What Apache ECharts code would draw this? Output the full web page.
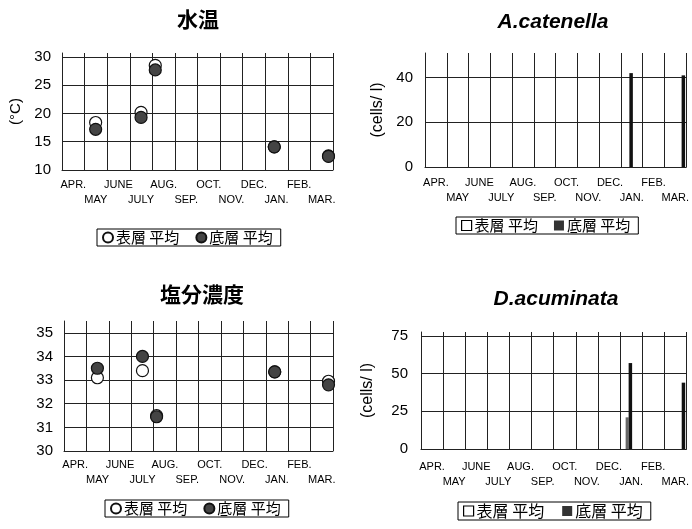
<!DOCTYPE html>
<html>
<head>
<meta charset="utf-8">
<script src="https://cdn.jsdelivr.net/npm/echarts@6/dist/echarts.min.js"></script>
<style>
  html, body { margin: 0; padding: 0; background: #fff; }
  .panel { position: absolute; }
</style>
</head>
<body>
<div id="tempChart" class="panel" style="left:0;top:0;width:346px;height:264px"></div>
<div id="catChart" class="panel" style="left:346px;top:0;width:346px;height:264px"></div>
<div id="salChart" class="panel" style="left:0;top:264px;width:346px;height:265px"></div>
<div id="acuChart" class="panel" style="left:346px;top:264px;width:346px;height:265px"></div>
<script>
// month labels on the x axis (April to March)
var months = ['APR.', 'MAY', 'JUNE', 'JULY', 'AUG.', 'SEP.', 'OCT.', 'NOV.', 'DEC.', 'JAN.', 'FEB.', 'MAR.'];
// sampling dates, counted in months from 1 April
var sampleX = [1.49, 3.5, 4.13, 9.4, 11.8];

// water temperature (°C)
var tempSurface = [18.4, 20.2, 28.5, 14.1, 12.5];
var tempBottom = [17.2, 19.3, 27.7, 14.1, 12.4];
// salinity
var salSurface = [33.1, 33.4, 31.5, 33.35, 32.95];
var salBottom = [33.5, 34.0, 31.45, 33.35, 32.8];
// A.catenella (cells/l)
var catSurface = [0, 0, 0, 0, 0];
var catBottom = [0, 0, 0, 42, 41];
// D.acuminata (cells/l)
var acuSurface = [0, 0, 0, 21, 0];
var acuBottom = [0, 0, 0, 57, 44];

var seriesNames = ['表層 平均', '底層 平均'];
var lineColor = '#222';
var latin = '"Liberation Sans", Arial, sans-serif';
var cjk = '"Noto Sans CJK JP", "Noto Sans", sans-serif';

function pairs(xs, ys) {
    return xs.map(function (x, i) { return [x, ys[i]]; });
}

function makeOption(p) {
    var isBar = p.kind === 'bar';
    var series, legendData;
    if (isBar) {
        series = [
            {
                name: seriesNames[0], type: 'bar', xAxisIndex: 1,
                data: pairs(sampleX, p.surface), barWidth: 3, barGap: '0%',
                itemStyle: { color: '#666' }
            },
            {
                name: seriesNames[1], type: 'bar', xAxisIndex: 1,
                data: pairs(sampleX, p.bottom), barWidth: 3.5, barGap: '0%',
                itemStyle: { color: '#111' }
            }
        ];
        // legend shows an open square for the surface layer
        legendData = [
            { name: seriesNames[0], itemStyle: { color: '#fff', borderColor: '#000', borderWidth: 1.2 } },
            { name: seriesNames[1], itemStyle: { color: '#333' } }
        ];
    } else {
        series = [
            {
                name: seriesNames[0], type: 'scatter', xAxisIndex: 1, symbolSize: 12,
                data: pairs(sampleX, p.surface),
                itemStyle: { color: '#fff', borderColor: '#111', borderWidth: 1.2, opacity: 1 }
            },
            {
                name: seriesNames[1], type: 'scatter', xAxisIndex: 1, symbolSize: 12,
                data: pairs(sampleX, p.bottom),
                itemStyle: { color: '#444', borderColor: '#111', borderWidth: 1.2, opacity: 1 }
            }
        ];
        legendData = seriesNames;
    }
    return {
        animation: false,
        backgroundColor: '#fff',
        title: {
            text: p.title, left: p.titleX, top: p.titleY, textAlign: 'center',
            textStyle: {
                fontFamily: p.italic ? latin : cjk, fontSize: 21,
                fontWeight: 'bold', fontStyle: p.italic ? 'italic' : 'normal', color: '#000'
            }
        },
        legend: {
            data: legendData, left: p.legendX, top: p.legendY,
            icon: isBar ? 'rect' : 'circle',
            itemWidth: 10, itemHeight: 10, itemGap: p.legendGap,
            padding: [1, 8, 1, 5],
            borderColor: '#000', borderWidth: 1,
            selectedMode: false,
            textStyle: {
                fontFamily: cjk, fontSize: p.legendFont, lineHeight: p.legendFont,
                color: '#000', padding: [0, 0, 0, -2]
            }
        },
        grid: { left: p.grid[0], top: p.grid[1], right: p.grid[2], bottom: p.grid[3] },
        xAxis: [
            {
                type: 'category', data: months, boundaryGap: true,
                axisLine: { show: true, lineStyle: { color: lineColor, width: 1 } },
                axisTick: { show: false },
                splitLine: { show: true, lineStyle: { color: lineColor, width: 1 } },
                axisLabel: {
                    interval: 0, margin: p.xMargin, fontFamily: latin, fontSize: 11,
                    lineHeight: 15, color: '#000',
                    formatter: function (v, i) { return i % 2 ? '\n' + v : v; }
                }
            },
            { type: 'value', min: 0, max: 12, show: false }
        ],
        yAxis: {
            type: 'value', min: p.yMin, max: p.yMax, interval: p.yStep,
            name: p.yName, nameLocation: 'middle', nameGap: p.yNameGap, nameRotate: 90,
            nameTextStyle: { fontFamily: latin, fontSize: p.yNameFont, color: '#000' },
            axisLine: { show: true, lineStyle: { color: lineColor } },
            axisTick: { show: false },
            axisLabel: {
                margin: p.yMargin, fontFamily: latin, fontSize: 15, color: '#000',
                showMaxLabel: false
            },
            splitLine: { show: true, showMaxLine: false, lineStyle: { color: lineColor, width: 1 } }
        },
        series: series
    };
}

var panels = [
    {
        dom: 'tempChart', kind: 'scatter', title: '水温', titleX: 193, titleY: 4,
        grid: [62, 53, 13, 94], yMin: 10, yMax: 30.7, yStep: 5,
        yName: '(°C)', yNameGap: 39, yNameFont: 15,
        yMargin: 11, xMargin: 7, legendX: 97, legendY: 229, legendFont: 15, legendGap: 16,
        surface: tempSurface, bottom: tempBottom
    },
    {
        dom: 'catChart', kind: 'bar', title: 'A.catenella', italic: true, titleX: 202, titleY: 7,
        grid: [79, 53, 4, 97], yMin: 0, yMax: 51, yStep: 20,
        yName: '(cells/ l)', yNameGap: 26, yNameFont: 16,
        yMargin: 12, xMargin: 8, legendX: 110, legendY: 217, legendFont: 15, legendGap: 16,
        surface: catSurface, bottom: catBottom
    },
    {
        dom: 'salChart', kind: 'scatter', title: '塩分濃度', titleX: 197, titleY: 15,
        grid: [64, 57, 13, 78], yMin: 30, yMax: 35.5, yStep: 1, yName: '', yNameGap: 40, yNameFont: 15,
        yMargin: 11, xMargin: 6, legendX: 105, legendY: 236, legendFont: 15, legendGap: 16,
        surface: salSurface, bottom: salBottom
    },
    {
        dom: 'acuChart', kind: 'bar', title: 'D.acuminata', italic: true, titleX: 205, titleY: 20,
        grid: [75, 68, 4, 80], yMin: 0, yMax: 77.6, yStep: 25,
        yName: '(cells/ l)', yNameGap: 45, yNameFont: 16,
        yMargin: 13, xMargin: 10, legendX: 112, legendY: 238, legendFont: 16, legendGap: 18,
        surface: acuSurface, bottom: acuBottom
    }
];

var charts = panels.map(function (p) {
    var chart = echarts.init(document.getElementById(p.dom), null, { renderer: 'canvas' });
    chart.setOption(makeOption(p));
    return chart;
});

window.addEventListener('resize', function () {
    charts.forEach(function (c) { c.resize(); });
});
</script>
</body>
</html>
